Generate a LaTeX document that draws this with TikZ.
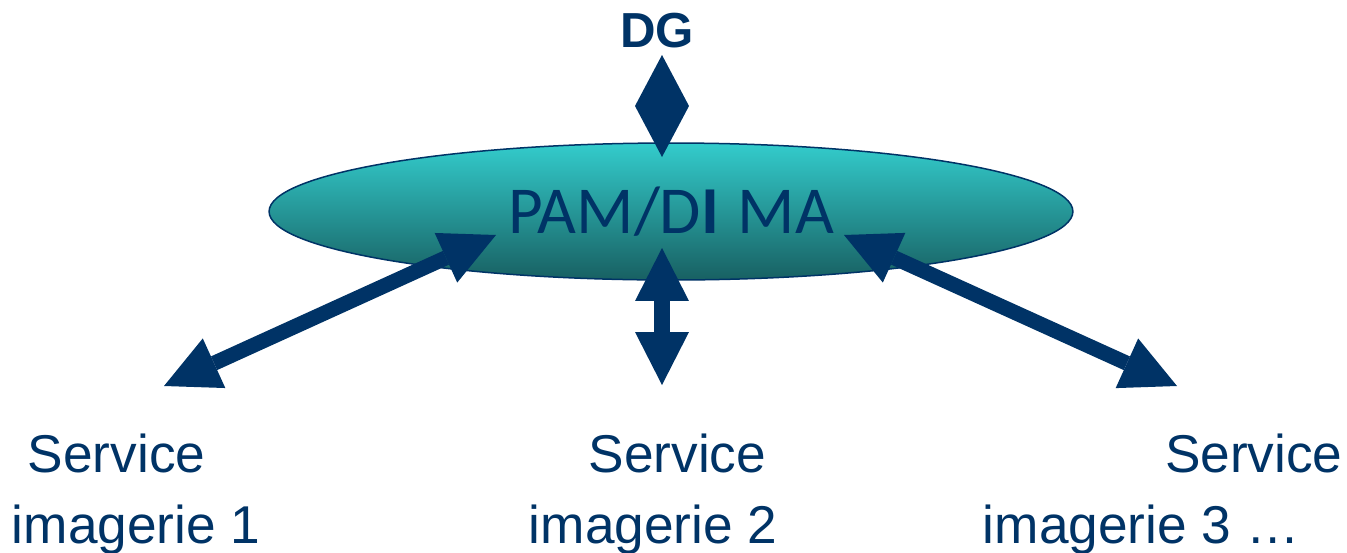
\documentclass[tikz,border=0pt]{standalone}
\usepackage{fontspec}
\usetikzlibrary{shapes.geometric,arrows.meta}
\newfontfamily\arialf{Liberation Sans}
\newfontfamily\calf{Carlito}
\definecolor{navy}{RGB}{0,51,102}
\definecolor{tealtop}{RGB}{51,204,204}
\definecolor{tealmid}{RGB}{40,166,168}
\definecolor{tealbot}{RGB}{24,96,98}
\tikzset{
  hub/.style={ellipse, draw=navy, line width=0.03cm,
    top color=tealtop, middle color=tealmid, bottom color=tealbot,
    minimum width=16.08cm, minimum height=2.74cm, inner sep=0pt,
    text=navy, font=\calf\fontsize{38.2pt}{44pt}\selectfont,
    text height=24.6pt, text depth=0pt},
  toplabel/.style={text=navy, inner sep=0pt,
    font=\arialf\bfseries\fontsize{28pt}{32pt}\selectfont},
  svclabel/.style={text=navy, inner sep=0pt, align=left,
    font=\arialf\fontsize{30.3pt}{40.25pt}\selectfont},
  flow/.style={draw=navy, line width=0.3cm,
    {Triangle[length=1.1cm,width=1.09cm,line width=0pt]}-{Triangle[length=1.1cm,width=1.09cm,line width=0pt]}},
  vflow/.style={draw=navy, line width=0.32cm,
    {Triangle[length=1.06cm,width=1.08cm,line width=0pt]}-{Triangle[length=1.06cm,width=1.08cm,line width=0pt]}},
  dgflow/.style={draw=navy, line width=0.32cm,
    {Triangle[length=1.02cm,width=1.08cm,line width=0pt]}-{Triangle[length=1.02cm,width=1.08cm,line width=0pt]}},
}
\begin{document}
\begin{tikzpicture}[x=0.02cm, y=-0.02cm]
  \useasboundingbox (0,0) rectangle (1347,552);

  % central hub
  \node[hub] (pam) at (671,211.5) {PAM/D{\bfseries I}\hspace{2pt} MA};

  % top label
  \node[toplabel, anchor=base] (dg) at (657,47.5) {DG};

  % service labels (anchored at the baseline of the second line)
  \node[svclabel, anchor=base west] (s1) at (11.5,543) {\hspace*{9.07pt}Service\\imagerie 1};
  \node[svclabel, anchor=base west] (s2) at (528.5,543) {\hspace*{34pt}Service\\imagerie 2};
  \node[svclabel, anchor=base west] (s3) at (982.5,543) {\hspace*{103.7pt}Service\\imagerie 3 …};

  % connector end points
  \coordinate (dgA) at (662,55);
  \coordinate (dgB) at (662,157);
  \coordinate (hubL) at (496,235);
  \coordinate (hubM) at (662,248);
  \coordinate (hubR) at (844,235);
  \coordinate (endL) at (164,386);
  \coordinate (endM) at (662,385);
  \coordinate (endR) at (1177,386);

  % connectors
  \draw[dgflow] (dgA) -- (dgB);
  \draw[flow] (hubL) -- (endL);
  \draw[vflow] (hubM) -- (endM);
  \draw[flow] (hubR) -- (endR);
\end{tikzpicture}
\end{document}
